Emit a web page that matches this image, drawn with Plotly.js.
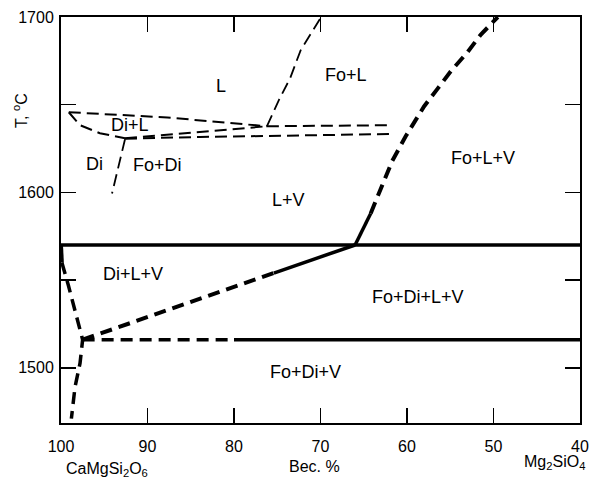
<!DOCTYPE html>
<html>
<head>
<meta charset="utf-8">
<script src="https://cdn.plot.ly/plotly-3.0.1.min.js"></script>
<style>html,body{margin:0;padding:0;background:#fff;}#chart{width:594px;height:485px;}</style>
</head>
<body>
<div id="chart"></div>
<script>
// ---- data (x = wt.% CaMgSi2O6, y = T, °C) ----
const xTicks = [100, 90, 80, 70, 60, 50, 40];
const yTicks = [1500, 1600, 1700];
const yMinorTicks = [1550, 1650];

// thick solid boundaries
const sol1570X = [100, 40];          const sol1570Y = [1570, 1570];
const sol1516SolidX = [80, 40];      const sol1516SolidY = [1516, 1516];
const cotecSolidX = [75.4, 66];      const cotecSolidY = [1554, 1570];
const foVSolidX = [66, 64.2];        const foVSolidY = [1570, 1588];
const diTopSolidX = [100, 99.9];     const diTopSolidY = [1570, 1560];

// thick dashed boundaries
const sol1516DashX = [97.5, 80];     const sol1516DashY = [1516, 1516];
const cotecDashX = [97.5, 75.4];     const cotecDashY = [1516, 1554];
const foVDashX = [64.2, 62.85, 61.7, 60.15, 58.03, 56.48, 54.94, 53.0, 51.46, 49.5];
const foVDashY = [1588, 1604, 1618, 1632, 1649, 1659, 1669, 1680, 1690, 1700];
const diLeftDashX = [99.9, 99.15, 97.5, 97.8, 98.38, 98.8];
const diLeftDashY = [1560, 1547, 1516, 1502.6, 1489, 1471];

// thin dashed boundaries (upper part)
const diLiqX = [99.1, 87.7, 76.2];             const diLiqY = [1645.7, 1642.7, 1637.7];
const upperHorX = [76.2, 62.1];                const upperHorY = [1637.7, 1638.3];
const foLiqX = [76.2, 74.8, 73.5, 72.3, 70.0]; const foLiqY = [1637.7, 1652.7, 1665.2, 1681, 1699.4];
const diSolX = [99.1, 97.8, 95.5, 92.6];       const diSolY = [1645.7, 1638.3, 1633.7, 1630.9];
const diLLowX = [92.6, 76.2];                  const diLLowY = [1630.9, 1637.7];
const lowerHorX = [92.6, 83.9, 61.5];          const lowerHorY = [1630.6, 1631.6, 1633.3];
const fodiVertX = [92.6, 94.1];                const fodiVertY = [1630.3, 1599.4];

// field labels
const fieldNames = ['L', 'Fo+L', 'Di+L', 'Di', 'Fo+Di', 'L+V', 'Fo+L+V', 'Di+L+V', 'Fo+Di+L+V', 'Fo+Di+V'];
const fieldX = [81.5, 67.1, 92.0, 96.1, 88.8, 73.7, 51.2, 91.7, 58.7, 71.7];
const fieldY = [1660.6, 1667, 1638.5, 1616.0, 1615.5, 1595.4, 1619.4, 1553.7, 1540.6, 1497.7];

// axis captions
const leftEnd = 'CaMgSi<sub>2</sub>O<sub>6</sub>';
const rightEnd = 'Mg<sub>2</sub>SiO<sub>4</sub>';
const xCaption = 'Вес. %';
const yCaption = 'T, <sup>o</sup>C';

// ---- build ----
function ln(x, y, w, dash) {
  return {x: x, y: y, type: 'scatter', mode: 'lines', hoverinfo: 'skip',
          line: {color: '#000', width: w, dash: dash || 'solid'}, showlegend: false};
}
const thickDash = '12px,7px';
const thinDash = '12px,6px';
const traces = [
  ln(sol1570X, sol1570Y, 3.5),
  ln(sol1516SolidX, sol1516SolidY, 3.5),
  ln(cotecSolidX, cotecSolidY, 3.5),
  ln(foVSolidX, foVSolidY, 3.5),
  ln(diTopSolidX, diTopSolidY, 4),
  ln(sol1516DashX, sol1516DashY, 3.5, thickDash),
  ln(cotecDashX, cotecDashY, 4, thickDash),
  ln(foVDashX, foVDashY, 4, thickDash),
  ln(diLeftDashX, diLeftDashY, 3.5, thickDash),
  ln(diLiqX, diLiqY, 2, thinDash),
  ln(upperHorX, upperHorY, 2, thinDash),
  ln(foLiqX, foLiqY, 1.8, thinDash),
  ln(diSolX, diSolY, 2, thinDash),
  ln(diLLowX, diLLowY, 2, thinDash),
  ln(lowerHorX, lowerHorY, 2, thinDash),
  ln(fodiVertX, fodiVertY, 1.8, thinDash)
];

const font = {family: '"Liberation Sans", Arial, sans-serif', color: '#000'};
const annotations = fieldNames.map((t, i) => ({
  text: t, x: fieldX[i], y: fieldY[i], xref: 'x', yref: 'y', showarrow: false,
  xanchor: 'center', yanchor: 'middle',
  font: Object.assign({size: 18}, font)
}));
function cap(text, x, xref, y, yref, extra) {
  return Object.assign({text: text, x: x, xref: xref, y: y, yref: yref, showarrow: false,
    xanchor: 'center', yanchor: 'middle', font: Object.assign({size: 16}, font)}, extra || {});
}
annotations.push(
  cap(leftEnd, 94.7, 'x', -0.115, 'paper'),
  cap(xCaption, 70.7, 'x', -0.108, 'paper'),
  cap(rightEnd, 43.0, 'x', -0.097, 'paper'),
  cap(yCaption, -0.079, 'paper', 1647, 'y', {textangle: -90})
);

const axisCommon = {
  showgrid: false, zeroline: false, showline: true, linecolor: '#000', linewidth: 2,
  mirror: 'ticks', ticks: 'inside', ticklen: 15, tickwidth: 1.5, tickcolor: '#000',
  tickfont: Object.assign({size: 16}, font), fixedrange: true
};
const layout = {
  width: 594, height: 485,
  margin: {l: 61, r: 14, t: 17, b: 62},
  paper_bgcolor: '#fff', plot_bgcolor: '#fff',
  xaxis: Object.assign({}, axisCommon, {range: [100, 40], tickmode: 'array', tickvals: xTicks,
          ticktext: xTicks.map(String), ticklabelstandoff: 8}),
  yaxis: Object.assign({}, axisCommon, {range: [1468.5, 1700], tickmode: 'array', tickvals: yTicks,
          ticktext: yTicks.map(String), ticklabelstandoff: 2,
          minor: {tickmode: 'array', tickvals: yMinorTicks, ticks: 'inside', ticklen: 15,
                  tickwidth: 1.5, tickcolor: '#000', showgrid: false}}),
  annotations: annotations,
  showlegend: false
};
Plotly.newPlot('chart', traces, layout, {staticPlot: true, displayModeBar: false});
</script>
</body>
</html>
